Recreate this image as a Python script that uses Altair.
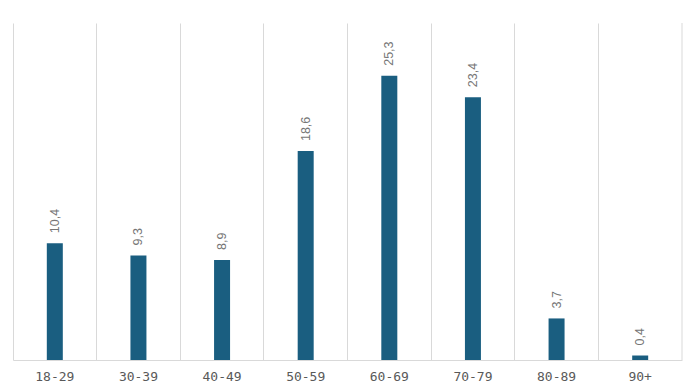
import altair as alt
import pandas as pd

categories = ["18-29", "30-39", "40-49", "50-59", "60-69", "70-79", "80-89", "90+"]
values = [10.4, 9.3, 8.9, 18.6, 25.3, 23.4, 3.7, 0.4]

df = pd.DataFrame({
    "cat": categories,
    "val": values,
    "lab": [f"{v:.1f}".replace(".", ",") for v in values],
})

W, H = 669, 337
x = alt.X("cat:N", sort=categories,
          scale=alt.Scale(paddingInner=0, paddingOuter=0),
          axis=alt.Axis(title=None, labels=False, ticks=False, domain=True,
                        domainColor="#d9d9d9", grid=True, gridColor="#d9d9d9",
                        bandPosition=0))
y = alt.Y("val:Q", scale=alt.Scale(domain=[0, 30]), axis=None)

base = alt.Chart(df)
bars = base.mark_bar(size=16, color="#1a5e80").encode(x=x, y=y)
labels = base.mark_text(angle=270, align="left", baseline="middle", dx=10,
                        font="Liberation Sans", fontSize=12.5, color="#767676").encode(
    x=alt.X("cat:N", sort=categories), y=y, text="lab:N")
xlabels = base.mark_text(font="DejaVu Sans Mono", fontSize=13, color="#595959",
                         baseline="middle").encode(
    x=alt.X("cat:N", sort=categories), y=alt.value(H + 17), text="cat:N")
edge = alt.Chart(pd.DataFrame({"a": [0]})).mark_rule(color="#d9d9d9").encode(
    x=alt.value(W), y=alt.value(0), y2=alt.value(H))

chart = alt.layer(bars, labels, xlabels, edge).properties(
    width=W, height=H,
    autosize=alt.AutoSizeParams(type="none"),
    padding={"left": 5, "top": 15, "right": 5, "bottom": 28},
).configure_view(stroke=None)

chart.save("out.html", embed_options={"renderer": "svg", "actions": False})
